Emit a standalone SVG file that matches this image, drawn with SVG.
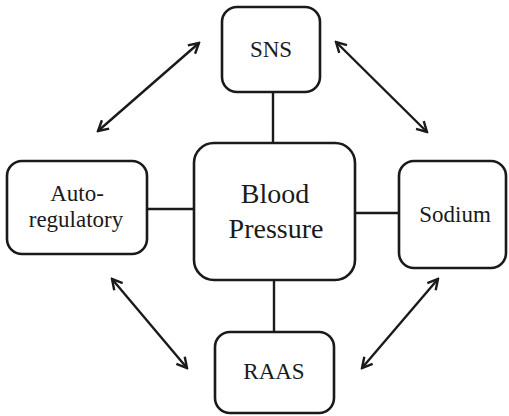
<svg xmlns="http://www.w3.org/2000/svg" width="509" height="416" viewBox="0 0 509 416">
<style>
.box{fill:#fff;stroke:#1a1a1a;stroke-width:2.6}
.ln{stroke:#1a1a1a;stroke-width:2.4;fill:none}
.ar{stroke:#1a1a1a;stroke-width:2.4;fill:none;marker-start:url(#h);marker-end:url(#h)}
.t{font-family:'Liberation Serif','Times New Roman',serif;fill:#1a1a1a;text-anchor:middle;font-size:23px}
.big{font-size:28px}
</style>
<defs>
<marker id="h" viewBox="0 0 14 14" refX="12" refY="7" markerWidth="14" markerHeight="14" markerUnits="userSpaceOnUse" orient="auto-start-reverse">
<path d="M2,1.5 L12,7 L2,12.5" fill="none" stroke="#1a1a1a" stroke-width="2.4"/>
</marker>
</defs>
<g id="connectors">
<line class="ln" x1="273" y1="92" x2="273" y2="143"/>
<line class="ln" x1="274" y1="280" x2="274" y2="332"/>
<line class="ln" x1="147" y1="209" x2="194" y2="209"/>
<line class="ln" x1="355" y1="213" x2="399" y2="213"/>
<line class="ar" x1="98" y1="131" x2="199" y2="43"/>
<line class="ar" x1="336" y1="42" x2="427" y2="132"/>
<line class="ar" x1="112" y1="279" x2="187" y2="368"/>
<line class="ar" x1="438" y1="279" x2="362" y2="368"/>
</g>
<g id="sns">
<rect class="box" x="222" y="7" width="98" height="85" rx="15"/>
<text class="t" x="271" y="57">SNS</text>
</g>
<g id="bp">
<rect class="box" x="194" y="143" width="161" height="137" rx="20"/>
<text class="t big" x="275" y="203">Blood</text>
<text class="t big" x="276" y="238">Pressure</text>
</g>
<g id="auto">
<rect class="box" x="7" y="161" width="140" height="93" rx="15"/>
<text class="t" x="77" y="201">Auto-</text>
<text class="t" x="76" y="227">regulatory</text>
</g>
<g id="sodium">
<rect class="box" x="399" y="161" width="107" height="107" rx="15"/>
<text class="t" x="455" y="222">Sodium</text>
</g>
<g id="raas">
<rect class="box" x="215" y="332" width="119" height="81" rx="15"/>
<text class="t" x="274" y="379">RAAS</text>
</g>
</svg>
